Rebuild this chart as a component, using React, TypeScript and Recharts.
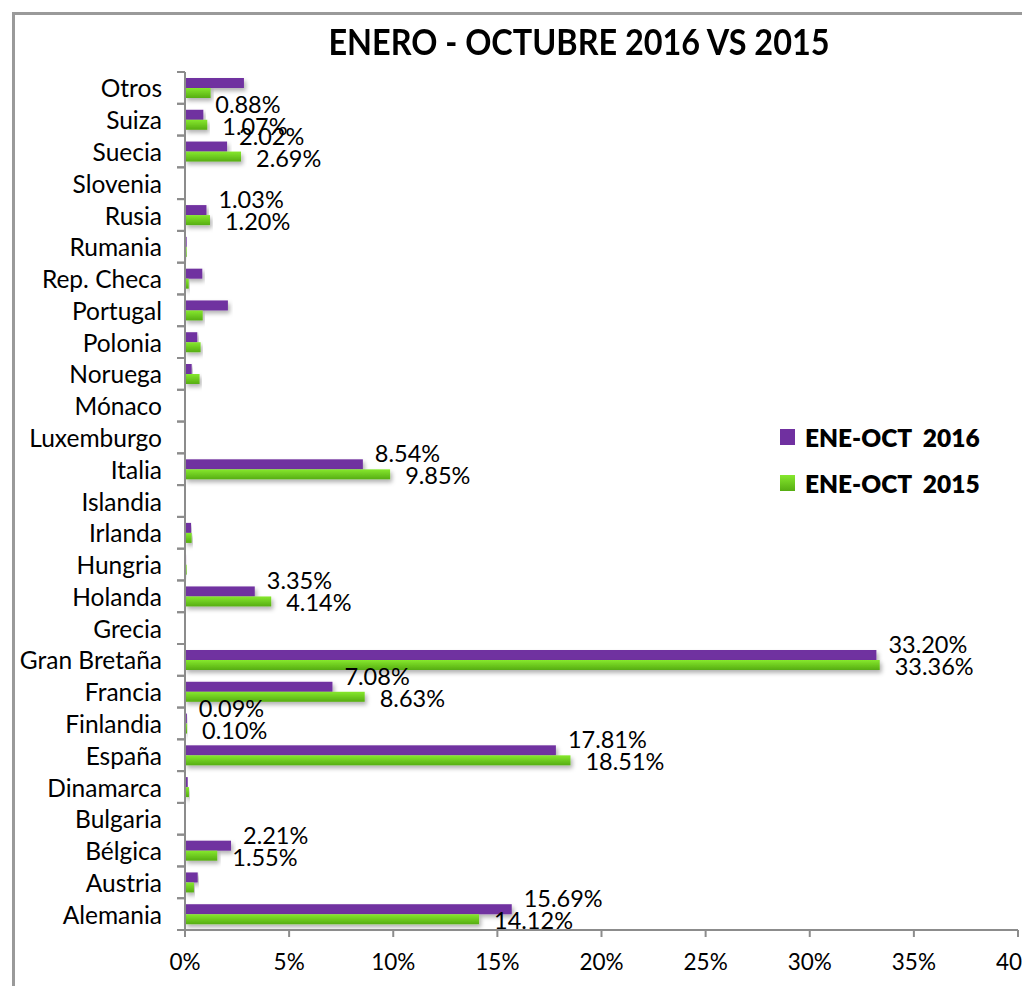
import { Bar, BarChart, LabelList, XAxis, YAxis } from "recharts";

const categories = [
  "Otros", "Suiza", "Suecia", "Slovenia", "Rusia", "Rumania", "Rep. Checa",
  "Portugal", "Polonia", "Noruega", "Mónaco", "Luxemburgo", "Italia", "Islandia",
  "Irlanda", "Hungria", "Holanda", "Grecia", "Gran Bretaña", "Francia",
  "Finlandia", "España", "Dinamarca", "Bulgaria", "Bélgica", "Austria", "Alemania",
];

// % share
const share2016 = [
  2.83, 0.88, 2.02, 0, 1.03, 0.08, 0.83, 2.06, 0.59, 0.32, 0, 0, 8.54, 0,
  0.29, 0.05, 3.35, 0, 33.2, 7.08, 0.09, 17.81, 0.13, 0.04, 2.21, 0.61, 15.69,
];
const share2015 = [
  1.23, 1.07, 2.69, 0, 1.2, 0.08, 0.18, 0.85, 0.75, 0.7, 0, 0, 9.85, 0,
  0.32, 0.08, 4.14, 0, 33.36, 8.63, 0.1, 18.51, 0.19, 0.01, 1.55, 0.43, 14.12,
];

// categories that carry data labels in the original
const labeled = [
  "Suiza", "Suecia", "Rusia", "Italia", "Holanda", "Gran Bretaña", "Francia",
  "Finlandia", "España", "Bélgica", "Alemania",
];

const xTicks = [0, 5, 10, 15, 20, 25, 30, 35, 40];

const rows = categories.map((name, i) => ({
  name,
  y2016: share2016[i],
  y2015: share2015[i],
}));

const FONT = "Lato, 'Noto Sans', sans-serif";
const PURPLE = "#7030a0";
const GRAY = "#8c8c8c";
const PLOT_TOP = 72;
const PLOT_BOTTOM = 930;
const BAND = (PLOT_BOTTOM - PLOT_TOP) / categories.length;

function CategoryTick(props: any) {
  const { x, y, payload } = props;
  return (
    <g>
      <text
        x={x - 23}
        y={y}
        textAnchor="end"
        dominantBaseline="central"
        fontSize={24.5}
        fontFamily={FONT}
        fill="#000"
      >
        {payload.value}
      </text>
      <line x1={x - 8} x2={x} y1={y - BAND / 2} y2={y - BAND / 2} stroke={GRAY} strokeWidth={2} />
      <line x1={x - 8} x2={x} y1={y + BAND / 2} y2={y + BAND / 2} stroke={GRAY} strokeWidth={2} />
    </g>
  );
}

function shadowBar(fill: string) {
  return (props: any) => {
    const { x, y, width, height } = props;
    if (!width || width <= 0) return <g />;
    return <rect x={x} y={y} width={width} height={height} fill={fill} filter="url(#barShadow)" />;
  };
}

function makeLabel(dx: number, dy: number) {
  return (props: any) => {
    const { x, y, width, height, value, index } = props;
    if (!labeled.includes(categories[index])) return null;
    return (
      <text
        x={x + width + dx}
        y={y + height / 2 + dy}
        dominantBaseline="central"
        fontSize={23.5}
        fontFamily={FONT}
        fill="#000"
      >
        {Number(value).toFixed(2)}%
      </text>
    );
  };
}

export default function App() {
  return (
    <div
      style={{
        position: "relative",
        width: 1030,
        height: 994,
        margin: -8,
        overflow: "hidden",
        background: "#fff",
        fontFamily: FONT,
      }}
    >
      {/* window edge + chart frame */}
      <div style={{ position: "absolute", left: 0, top: 0, width: 3, height: 994, background: "#8a8a8a" }} />
      <div
        style={{
          position: "absolute",
          left: 12,
          top: 12,
          width: 1100,
          height: 1100,
          borderLeft: "3px solid #9a9a9a",
          borderTop: "3px solid #9a9a9a",
        }}
      />
      <div
        style={{
          position: "absolute",
          top: 19,
          left: 279,
          width: 600,
          textAlign: "center",
          fontSize: 36,
          fontWeight: 700,
          color: "#000",
          transform: "scaleX(0.9)",
        }}
      >
        ENERO - OCTUBRE 2016 VS 2015
      </div>

      <div style={{ position: "absolute", left: 0, top: 0 }}>
        <BarChart
          width={1030}
          height={994}
          data={rows}
          layout="vertical"
          margin={{ top: PLOT_TOP, right: 12, bottom: 34, left: 0 }}
          barGap={0}
        >
          <defs>
            <linearGradient id="greenFill" x1="0" y1="0" x2="0" y2="1">
              <stop offset="0%" stopColor="#86e82e" />
              <stop offset="100%" stopColor="#56ad12" />
            </linearGradient>
            <filter id="barShadow" x="-5%" y="-50%" width="115%" height="250%">
              <feDropShadow dx="2" dy="3" stdDeviation="2" floodColor="#000" floodOpacity="0.3" />
            </filter>
          </defs>
          <XAxis
            type="number"
            domain={[0, 40]}
            ticks={xTicks}
            tickFormatter={(v) => `${v}%`}
            axisLine={{ stroke: GRAY, strokeWidth: 2 }}
            tickLine={{ stroke: GRAY, strokeWidth: 2 }}
            tickSize={7}
            tickMargin={17}
            height={30}
            interval={0}
            tick={{ fontSize: 22.5, fontFamily: FONT, fill: "#000" }}
          />
          <YAxis
            type="category"
            dataKey="name"
            width={185}
            interval={0}
            axisLine={{ stroke: GRAY, strokeWidth: 2 }}
            tickLine={false}
            tickSize={0}
            tickMargin={0}
            tick={<CategoryTick />}
          />
          <Bar dataKey="y2016" barSize={10} fill={PURPLE} shape={shadowBar(PURPLE)} isAnimationActive={false}>
            <LabelList dataKey="y2016" content={makeLabel(12, -11)} />
          </Bar>
          <Bar dataKey="y2015" barSize={10} fill="url(#greenFill)" shape={shadowBar("url(#greenFill)")} isAnimationActive={false}>
            <LabelList dataKey="y2015" content={makeLabel(15, 1)} />
          </Bar>
        </BarChart>
      </div>

      {/* legend */}
      {[
        { text: "ENE-OCT  2016", color: PURPLE, top: 437 },
        { text: "ENE-OCT  2015", color: "url", top: 483 },
      ].map((l) => (
        <div
          key={l.text}
          style={{
            position: "absolute",
            left: 780,
            top: l.top - 15,
            height: 30,
            display: "flex",
            alignItems: "center",
            whiteSpace: "pre",
            fontSize: 24.5,
            fontWeight: 800,
            color: "#000",
          }}
        >
          <span
            style={{
              display: "inline-block",
              width: 15,
              height: 16,
              marginRight: 10,
              background: l.color === "url" ? "linear-gradient(#86e82e, #56ad12)" : l.color,
            }}
          />
          {l.text}
        </div>
      ))}
    </div>
  );
}
